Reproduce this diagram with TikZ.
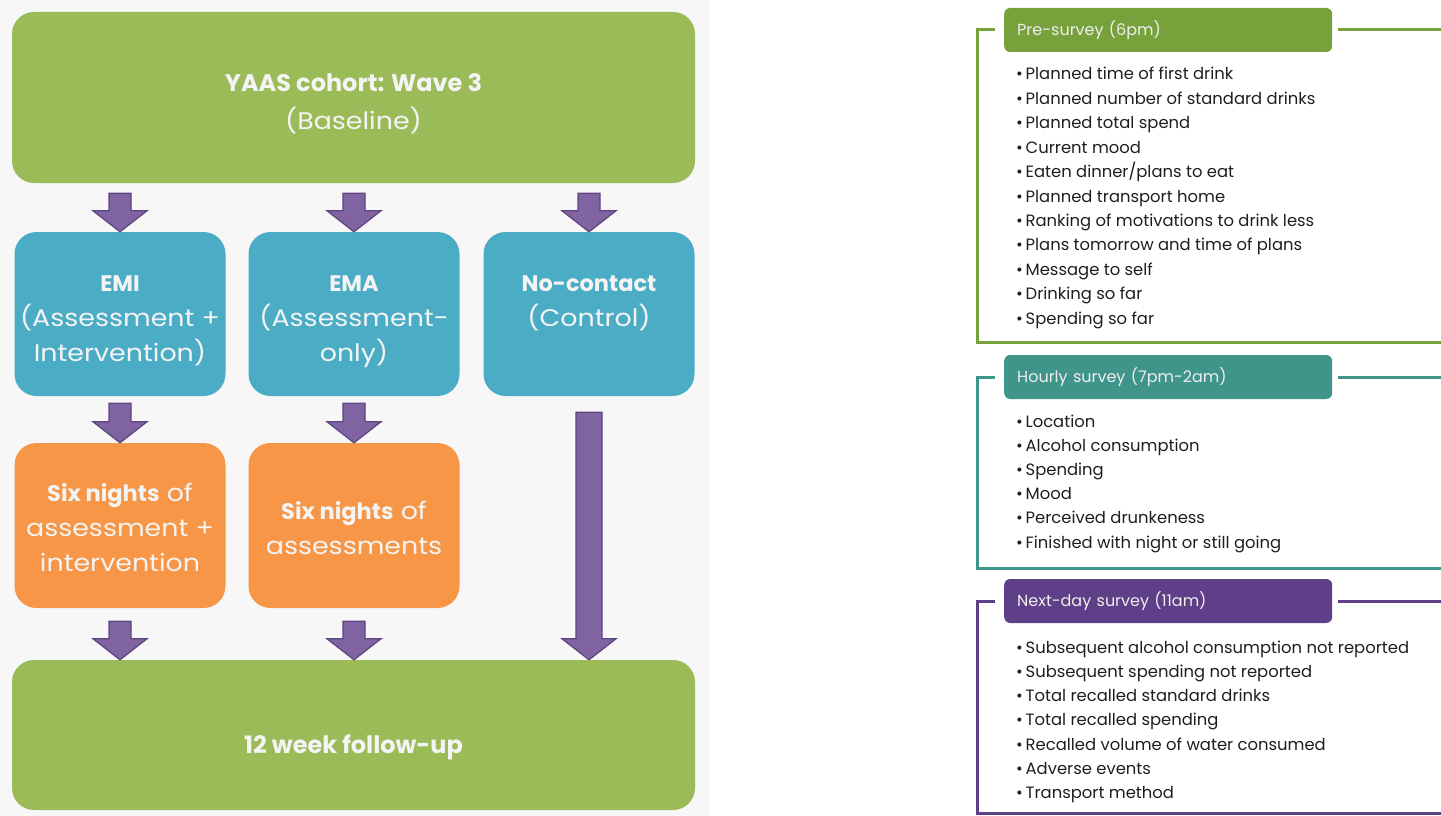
\documentclass[tikz,border=0pt]{standalone}
\usepackage{fontspec}
\setmainfont{Poppins}
\newfontfamily\widefont[FakeStretch=1.12]{Poppins}
\usetikzlibrary{calc}

\definecolor{panelgrey}{HTML}{F7F7F7}
\definecolor{boxgreen}{HTML}{9BBB59}
\definecolor{boxblue}{HTML}{4BACC6}
\definecolor{boxorange}{HTML}{F79646}
\definecolor{arrowfill}{HTML}{8064A2}
\definecolor{arrowline}{HTML}{5C4580}
\definecolor{pregreen}{HTML}{77A23B}
\definecolor{hourteal}{HTML}{3F958A}
\definecolor{nextpurple}{HTML}{5F3F87}
\definecolor{boxtext}{HTML}{F4F4F4}
\definecolor{headtext}{HTML}{EEEEEE}
\definecolor{itemtext}{HTML}{1E1E1E}

% block arrow from a start point down to a tip point
\newcommand\flowarrow[4]{%
  \draw[flowarrow] let \p1=#1, \p2=#2 in
    (\x1-#4,\y1-#3) -- (\x1+#4,\y1-#3) -- (\x1+#4,\y2+21pt)
    -- (\x1+27pt,\y2+21pt) -- (\x1,\y2) -- (\x1-27pt,\y2+21pt)
    -- (\x1-#4,\y2+21pt) -- cycle;}
% bold head words inside a box text
\newcommand\headword[1]{{\normalfont\bfseries #1}}
\newcommand\smallhead[1]{{\normalfont\bfseries\fontsize{22.5}{35}\selectfont #1}}

\begin{document}
\begin{tikzpicture}[x=1pt,y=-1pt,
  flowbox/.style={rounded corners=22pt, inner sep=0pt},
  widebox/.style={flowbox, fill=boxgreen, minimum width=683pt},
  armbox/.style={flowbox, fill=boxblue, minimum width=211pt, minimum height=164pt},
  nightbox/.style={flowbox, fill=boxorange, minimum width=211pt, minimum height=165pt},
  boxlabel/.style={inner sep=0pt, align=center, text=boxtext,
    font=\widefont\fontsize{24}{35}\selectfont},
  flowarrow/.style={fill=arrowfill, draw=arrowline, line width=1.2pt, line join=miter},
  header/.style={rounded corners=6pt, anchor=west, inner xsep=13pt, inner ysep=0pt,
    minimum height=44pt, text width=302pt, align=left, text=headtext,
    font=\fontsize{16}{18}\selectfont},
  frameline/.style={line width=3pt},
  item/.style={anchor=base west, inner sep=0pt, text=itemtext,
    font=\fontsize{16.4}{18}\selectfont}]
\useasboundingbox (0,0) rectangle (1441,816);
\fill[panelgrey] (0,0) rectangle (710,816);

% ---- study flow: boxes ----
\node[widebox, minimum height=171pt] (wave3) at (353.5,97.5) {};
\node[armbox] (emi) at (120,314) {};
\node[armbox] (ema) at (354,314) {};
\node[armbox] (noc) at (589,314) {};
\node[nightbox] (six1) at (120,525.5) {};
\node[nightbox] (six2) at (354,525.5) {};
\node[widebox, minimum height=150pt] (follow) at (353.5,735) {};

% ---- study flow: texts ----
\node[boxlabel, font=\widefont\fontsize{24}{38}\selectfont] (wave3-text)
  at ([yshift=-6pt]wave3.center) {\headword{YAAS cohort: Wave 3}\\(Baseline)};
\node[boxlabel, anchor=north] (emi-text) at ([yshift=-44pt]emi.north)
  {\smallhead{EMI}\\(Assessment +\\Intervention)};
\node[boxlabel, anchor=north] (ema-text) at ([yshift=-44pt]ema.north)
  {\smallhead{EMA}\\(Assessment-\\only)};
\node[boxlabel, anchor=north] (noc-text) at ([yshift=-44pt]noc.north)
  {\smallhead{No-contact}\\(Control)};
\node[boxlabel] (six1-text) at ([yshift=-2pt]six1.center)
  {\smallhead{Six nights} of\\assessment +\\intervention};
\node[boxlabel] (six2-text) at ([yshift=-2pt]six2.center)
  {\smallhead{Six nights} of\\assessments};
\node[boxlabel] (follow-text) at ([yshift=-12pt]follow.center)
  {\headword{12 week follow-up}};

% ---- study flow: arrows ----
\flowarrow{(wave3.south -| emi.north)}{(emi.north)}{10pt}{11pt}
\flowarrow{(wave3.south -| ema.north)}{(ema.north)}{10pt}{11pt}
\flowarrow{(wave3.south -| noc.north)}{(noc.north)}{10pt}{11pt}
\flowarrow{(emi.south)}{(six1.north)}{7pt}{11pt}
\flowarrow{(ema.south)}{(six2.north)}{7pt}{11pt}
\flowarrow{(six1.south)}{(six1.south |- follow.north)}{13pt}{11pt}
\flowarrow{(six2.south)}{(six2.south |- follow.north)}{13pt}{11pt}
\flowarrow{(noc.south)}{(noc.south |- follow.north)}{16pt}{13pt}

% ---- survey contents ----
\node[header, fill=pregreen] (pre) at (1004,30) {Pre-survey (6pm)};
\draw[frameline, pregreen] ([xshift=-9pt]pre.west) -| (977,342) -- (1441,342);
\draw[frameline, pregreen] ([xshift=6pt]pre.east) -- (1441,30);
\foreach \t [count=\i from 0] in {Planned time of first drink,
  Planned number of standard drinks, Planned total spend, Current mood,
  Eaten dinner/plans to eat, Planned transport home,
  Ranking of motivations to drink less, Plans tomorrow and time of plans,
  Message to self, Drinking so far, Spending so far}
  \node[item] (pre-\i) at (1016,{80+24.4*\i}) {\textbullet\,\t};

\node[header, fill=hourteal] (hour) at (1004,377) {Hourly survey (7pm-2am)};
\draw[frameline, hourteal] ([xshift=-9pt]hour.west) -| (977,568) -- (1441,568);
\draw[frameline, hourteal] ([xshift=6pt]hour.east) -- (1441,377);
\foreach \t [count=\i from 0] in {Location, Alcohol consumption, Spending,
  Mood, Perceived drunkeness, Finished with night or still going}
  \node[item] (hour-\i) at (1016,{427+24.2*\i}) {\textbullet\,\t};

\node[header, fill=nextpurple] (next) at (1004,601) {Next-day survey (11am)};
\draw[frameline, nextpurple] ([xshift=-9pt]next.west) -| (977,813) -- (1441,813);
\draw[frameline, nextpurple] ([xshift=6pt]next.east) -- (1441,601);
\foreach \t [count=\i from 0] in {Subsequent alcohol consumption not reported,
  Subsequent spending not reported, Total recalled standard drinks,
  Total recalled spending, Recalled volume of water consumed,
  Adverse events, Transport method}
  \node[item] (next-\i) at (1016,{653+24.3*\i}) {\textbullet\,\t};
\end{tikzpicture}
\end{document}
